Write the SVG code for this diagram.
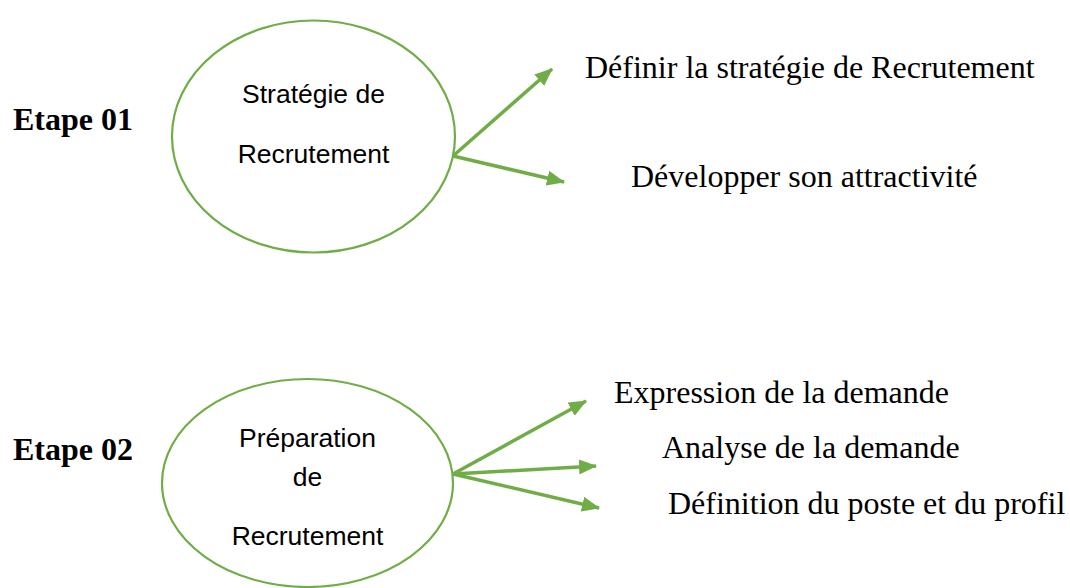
<svg xmlns="http://www.w3.org/2000/svg" width="1070" height="588" viewBox="0 0 1070 588">
  <defs>
    <marker id="arrowhead" viewBox="0 0 18 15" refX="17" refY="7.5" markerWidth="18" markerHeight="15" markerUnits="userSpaceOnUse" orient="auto">
      <path d="M0,0 L18,7.5 L0,15 Z" fill="#70AD47"/>
    </marker>
    <style>
      .stage { fill: #ffffff; stroke: #70AD47; stroke-width: 2.2; }
      .stage-text { font-family: "Liberation Sans", Arial, sans-serif; font-size: 26.5px; fill: #000000; text-anchor: middle; }
      .step { font-family: "Liberation Serif", "Times New Roman", serif; font-size: 32px; font-weight: bold; fill: #000000; }
      .item { font-family: "Liberation Serif", "Times New Roman", serif; font-size: 32px; fill: #000000; }
      .link { stroke: #70AD47; stroke-width: 3.5; fill: none; marker-end: url(#arrowhead); }
    </style>
  </defs>
  <rect width="1070" height="588" fill="#ffffff"/>

  <!-- Step 1 -->
  <g id="etape01">
    <text class="step" x="13" y="130">Etape 01</text>
  </g>
  <g id="strategie">
    <ellipse class="stage" cx="313.5" cy="136.5" rx="141.5" ry="116"/>
    <text class="stage-text" x="313.5" y="103">Stratégie de</text>
    <text class="stage-text" x="313.5" y="163">Recrutement</text>
  </g>
  <g id="definir">
    <text class="item" x="585" y="78">Définir la stratégie de Recrutement</text>
  </g>
  <g id="developper">
    <text class="item" x="631" y="187">Développer son attractivité</text>
  </g>

  <!-- Step 2 -->
  <g id="etape02">
    <text class="step" x="13" y="460">Etape 02</text>
  </g>
  <g id="preparation">
    <ellipse class="stage" cx="307.5" cy="483" rx="145.5" ry="104"/>
    <text class="stage-text" x="307.5" y="447">Préparation</text>
    <text class="stage-text" x="307.5" y="486">de</text>
    <text class="stage-text" x="307.5" y="545">Recrutement</text>
  </g>
  <g id="expression">
    <text class="item" x="614" y="403">Expression de la demande</text>
  </g>
  <g id="analyse">
    <text class="item" x="662" y="458">Analyse de la demande</text>
  </g>
  <g id="definition">
    <text class="item" x="668" y="514">Définition du poste et du profil</text>
  </g>

  <!-- Connectors -->
  <g id="connectors">
    <line class="link" x1="453" y1="156" x2="552" y2="69"/>
    <line class="link" x1="453" y1="156" x2="564" y2="182"/>
    <line class="link" x1="453" y1="474" x2="586" y2="401"/>
    <line class="link" x1="453" y1="474" x2="596" y2="466"/>
    <line class="link" x1="453" y1="474" x2="599" y2="508"/>
  </g>
</svg>
